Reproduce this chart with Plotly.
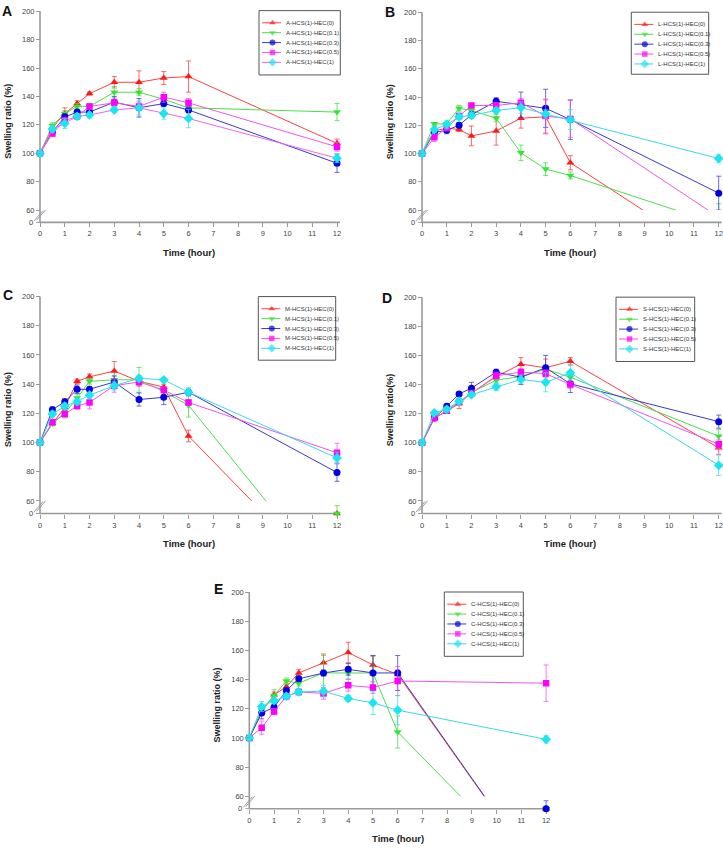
import plotly.graph_objects as go

W, H = 723, 850

# ---------------- data ----------------
TIME = [0, 0.5, 1, 1.5, 2, 3, 4, 5, 6, 12]
X_TICKS = list(range(0, 13))
Y_TICKS = [60, 80, 100, 120, 140, 160, 180, 200]
HEC_LEVELS = ["0", "0.1", "0.3", "0.5", "1"]
PREFIXES = ["A", "L", "M", "S", "C"]
PANEL_LETTERS = ["A", "B", "C", "D", "E"]
Y_TITLES = ["Swelling ratio (%)", "Swelling ratio (%)", "Swelling ratio (%)",
            "Swelling ratio(%)", "Swelling ratio (%)"]
X_TITLE = "Time (hour)"

# Panel A  (A-HCS(1)-HEC(x))
A_HEC0 = [100, 118, 128, 135, 142, 150, 150, 153, 154, 107]
A_HEC01 = [100, 119.5, 128, 133, 133, 143, 143, 138, 132, 129]
A_HEC03 = [100, 115, 125.5, 129, 129, 136, 132, 135, 130.5, 93]
A_HEC05 = [100, 114, 123, 126, 133, 135.5, 133, 139.5, 135.5, 104.5]
A_HEC1 = [100, 117, 121, 126, 127, 130.5, 132, 128, 124.5, 96.5]
A_ERR0 = [0, 1.5, 4, 2, 1, 4, 8, 4.5, 11, 3]
A_ERR01 = [0, 2, 2, 2, 1.5, 4, 2.5, 3, 2, 6]
A_ERR03 = [0, 1.5, 2.5, 2, 2, 4, 6.5, 2, 2, 6.5]
A_ERR05 = [0, 2, 2, 2, 2, 2.5, 3, 3.5, 3, 3]
A_ERR1 = [0, 2, 3.5, 2, 2, 2, 5, 4, 6.5, 3]

# Panel B  (L-HCS(1)-HEC(x))
B_HEC0 = [100, 116, 118, 117, 112.5, 116, 125, 126, 93.5, 25]
B_HEC01 = [100, 121, 121, 132, 130.5, 125, 100.5, 89, 84.5, 50]
B_HEC03 = [100, 115, 116.5, 120, 127.5, 137, 134.5, 132, 124, 72]
B_HEC05 = [100, 111.5, 118, 126.5, 134, 134, 136, 126.5, 124.5, 55]
B_HEC1 = [100, 117, 120.5, 126, 127, 130.5, 132.5, 128, 124, 96.5]
B_ERR0 = [0, 2, 2, 1.5, 7, 10, 7, 12, 5, 0]
B_ERR01 = [0, 1, 1.5, 2, 2, 2.5, 5.5, 4.5, 2.5, 14.5]
B_ERR03 = [0, 3, 2.5, 2, 2, 2.5, 9, 13.5, 14, 12]
B_ERR05 = [0, 3, 2, 2, 1.5, 2, 3, 12, 13, 0]
B_ERR1 = [0, 2, 3, 2, 2, 2, 4, 3, 7, 3]

# Panel C  (M-HCS(1)-HEC(x))
C_HEC0 = [100, 113, 124, 142, 145, 149, 142, 138, 104.5, 0]
C_HEC01 = [100, 113, 120, 130.5, 142, 143, 143, 135, 125.5, 0]
C_HEC03 = [100, 122.5, 128, 136.5, 136.5, 141.5, 129.5, 131, 134.5, 79.5]
C_HEC05 = [100, 114, 119.5, 125, 127.5, 139, 141.5, 136, 127.5, 93]
C_HEC1 = [100, 119.5, 125, 128, 132.5, 139, 144, 143, 134.5, 89.5]
C_ERR0 = [0, 1, 2, 1.5, 2, 6.5, 3, 2, 4, 0]
C_ERR01 = [0, 1.5, 3, 3, 2, 3, 8.5, 3, 8, 38]
C_ERR03 = [0, 2, 2, 3, 2, 4, 4.5, 5, 2, 6]
C_ERR05 = [0, 2, 2, 2, 4.5, 4.5, 3, 2, 2, 6.5]
C_ERR1 = [0, 2, 2, 2, 2, 3, 2, 1.5, 3, 4]

# Panel D  (S-HCS(1)-HEC(x))
D_HEC0 = [100, 117, 121.5, 127, 134, 145.5, 154, 151.5, 156, 96.5]
D_HEC01 = [100, 117, 122, 127.5, 134.5, 143, 145.5, 150.5, 145, 104.5]
D_HEC03 = [100, 117, 125, 133.5, 137.5, 148.5, 145, 151.5, 140.5, 114.5]
D_HEC05 = [100, 117, 122, 128, 134, 146, 148.5, 147.5, 140, 99]
D_HEC1 = [100, 120.5, 123, 128.5, 133, 138.5, 143.5, 141.5, 148, 84.5]
D_ERR0 = [0, 1, 1.5, 3.5, 2, 2, 4.5, 6, 2.5, 4.5]
D_ERR01 = [0, 1, 1.5, 2, 2, 2, 2, 2, 2, 4.5]
D_ERR03 = [0, 1.5, 1.5, 1.5, 4, 2, 5, 8.5, 6, 4.5]
D_ERR05 = [0, 1.5, 1.5, 2, 2, 2.5, 2.5, 2.5, 2.5, 3]
D_ERR1 = [0, 1.5, 2, 2, 1.5, 2.5, 3, 6.5, 5, 7]

# Panel E  (C-HCS(1)-HEC(x))
E_HEC0 = [100, 118, 129.5, 135, 144.5, 151.5, 158.5, 150, 143.5, 0]
E_HEC01 = [100, 119, 129, 139, 137.5, 144.5, 144.5, 144.5, 104, 0]
E_HEC03 = [100, 117, 121, 132.5, 140.5, 144.5, 147, 144.5, 144.5, 0]
E_HEC05 = [100, 107, 118, 128.5, 131.5, 130.5, 136, 134.5, 139, 137.5]
E_HEC1 = [100, 121.5, 125.5, 128.5, 131.5, 132, 127, 124, 119, 99]
E_ERR0 = [0, 2, 2, 2, 2.5, 6, 7, 6, 3, 0]
E_ERR01 = [0, 2, 4, 2, 2, 12, 4, 12, 11, 0]
E_ERR03 = [0, 4, 2, 2, 2, 2, 4, 12, 12, 38]
E_ERR05 = [0, 4.5, 2, 2, 2, 4, 4, 4, 10, 12.5]
E_ERR1 = [0, 3.5, 2, 2, 2, 4, 2, 8, 10, 2.5]

VALUES = [
    [A_HEC0, A_HEC01, A_HEC03, A_HEC05, A_HEC1],
    [B_HEC0, B_HEC01, B_HEC03, B_HEC05, B_HEC1],
    [C_HEC0, C_HEC01, C_HEC03, C_HEC05, C_HEC1],
    [D_HEC0, D_HEC01, D_HEC03, D_HEC05, D_HEC1],
    [E_HEC0, E_HEC01, E_HEC03, E_HEC05, E_HEC1],
]
ERRORS = [
    [A_ERR0, A_ERR01, A_ERR03, A_ERR05, A_ERR1],
    [B_ERR0, B_ERR01, B_ERR03, B_ERR05, B_ERR1],
    [C_ERR0, C_ERR01, C_ERR03, C_ERR05, C_ERR1],
    [D_ERR0, D_ERR01, D_ERR03, D_ERR05, D_ERR1],
    [E_ERR0, E_ERR01, E_ERR03, E_ERR05, E_ERR1],
]

# ---------------- styles / layout ----------------
FONT = "Arial, Liberation Sans, sans-serif"
AXIS_COLOR = "#9a9a9a"
TEXT_COLOR = "#444444"
MARKER_COLORS = ["#ff1a1a", "#33e633", "#0000e6", "#ff00ff", "#1ae6f0"]
LINE_COLORS = ["#ff4040", "#4ddd4d", "#3a3acc", "#ee55ee", "#3ad8ea"]
ERR_COLORS = ["rgba(255,60,60,0.75)", "rgba(70,220,70,0.75)", "rgba(60,60,210,0.75)",
              "rgba(240,80,240,0.75)", "rgba(60,220,235,0.75)"]
SYMBOLS = ["triangle-up", "triangle-down", "circle", "square", "diamond"]
SIZES = [7, 7, 7, 6.5, 7.5]

# pixel geometry per panel: x at t=0, x at t=12, y at 200, y at 60, y at 0, legend box
GEOM = [
    dict(x0=40, x12=337, y200=7.3, y60=208.3, y0=220.7, leg=(259, 6.7, 340.3, 71.7), let=(0, 7)),
    dict(x0=422, x12=718.7, y200=8.3, y60=208.3, y0=220.7, leg=(631.3, 8.3, 708.7, 71), let=(382.5, 8)),
    dict(x0=40, x12=337, y200=295.7, y60=502.3, y0=515, leg=(258.3, 295.7, 335.7, 360), let=(1, 294)),
    dict(x0=422, x12=718.7, y200=296.3, y60=502.3, y0=515, leg=(616, 296.3, 694.7, 361.3), let=(380, 297)),
    dict(x0=249.3, x12=546.1, y200=594.3, y60=800.7, y0=813.3, leg=(444.3, 594.3, 523.3, 659.3), let=(211.5, 591.7)),
]


def px(x):
    return min(max(x / W, 0.0), 1.0)


def py(y):
    return min(max(1 - y / H, 0.0), 1.0)


def ref(kind, k):
    return kind if k == 1 else f"{kind}{k}"


def lay(kind, k):
    return f"{kind}axis" if k == 1 else f"{kind}axis{k}"


fig = go.Figure()
layout = {}
shapes = []
annotations = []

PAD = 6  # px of breathing room around the data range so edge markers are not clipped

for p in range(5):
    g = GEOM[p]
    xi = p + 1
    yu = 2 * p + 1
    yl = 2 * p + 2
    ppu = (g["x12"] - g["x0"]) / 12.0
    lpad = PAD
    rpad = min(PAD, W - g["x12"])

    layout[lay("x", xi)] = dict(
        domain=[px(g["x0"] - lpad), px(g["x12"] + rpad)],
        range=[-lpad / ppu, 12 + rpad / ppu],
        anchor="free", position=py(g["y0"]),
        tickmode="array", tickvals=X_TICKS, ticktext=[str(v) for v in X_TICKS],
        ticks="outside", ticklen=4, tickwidth=1, tickcolor=AXIS_COLOR,
        showline=False, showgrid=False, zeroline=False,
        tickfont=dict(family=FONT, size=7.5, color=TEXT_COLOR),
        fixedrange=True,
    )
    layout[lay("y", yu)] = dict(
        domain=[py(g["y60"]), py(g["y200"])],
        range=[60, 200],
        anchor="free", position=px(g["x0"]),
        tickmode="array", tickvals=Y_TICKS, ticktext=[str(v) for v in Y_TICKS],
        ticks="outside", ticklen=4, tickwidth=1, tickcolor=AXIS_COLOR,
        showline=False, showgrid=False, zeroline=False,
        tickfont=dict(family=FONT, size=7.5, color=TEXT_COLOR),
        fixedrange=True,
    )
    # compressed zero segment below the axis break
    s = 60.0 / (g["y0"] - g["y60"])
    layout[lay("y", yl)] = dict(
        domain=[py(g["y0"] + PAD), py(g["y60"] + 1.5)],
        range=[-PAD * s, (g["y0"] - g["y60"] - 1.5) * s],
        anchor="free", position=px(g["x0"]),
        visible=False, fixedrange=True,
    )

    line_colors = list(LINE_COLORS)
    if p == 0:
        line_colors[4] = "#ee66ee"

    for k in range(5):
        vals = VALUES[p][k]
        errs = ERRORS[p][k]
        fig.add_trace(go.Scatter(
            x=TIME, y=vals, xaxis=ref("x", xi), yaxis=ref("y", yu),
            mode="lines+markers",
            line=dict(color=line_colors[k], width=1),
            marker=dict(symbol=SYMBOLS[k], size=SIZES[k], color=MARKER_COLORS[k], line=dict(width=0)),
            error_y=dict(type="data", array=errs, color=ERR_COLORS[k], thickness=1, width=2.5),
            name=f"{PREFIXES[p]}-HCS(1)-HEC({HEC_LEVELS[k]})",
            showlegend=False, hoverinfo="x+y+name",
        ))
        zx = [t for t, v in zip(TIME, vals) if v == 0]
        ze = [e for e, v in zip(errs, vals) if v == 0]
        if zx:
            fig.add_trace(go.Scatter(
                x=zx, y=[0] * len(zx), xaxis=ref("x", xi), yaxis=ref("y", yl),
                mode="markers",
                marker=dict(symbol=SYMBOLS[k], size=SIZES[k], color=MARKER_COLORS[k], line=dict(width=0)),
                error_y=dict(type="data", symmetric=False, array=ze, arrayminus=[0] * len(ze),
                             color=ERR_COLORS[k], thickness=1, width=2.5),
                showlegend=False, hoverinfo="skip",
            ))

    # axis lines, zero tick, break marks
    lw = 1.6
    shapes.append(dict(type="line", xref="paper", yref="paper", layer="below",
                       x0=px(g["x0"]), x1=px(g["x0"]), y0=py(g["y200"]), y1=py(g["y0"]),
                       line=dict(color=AXIS_COLOR, width=lw)))
    shapes.append(dict(type="line", xref="paper", yref="paper", layer="below",
                       x0=px(g["x0"]), x1=px(g["x12"] + 3), y0=py(g["y0"]), y1=py(g["y0"]),
                       line=dict(color=AXIS_COLOR, width=lw)))
    shapes.append(dict(type="line", xref="paper", yref="paper", layer="below",
                       x0=px(g["x0"] - 4), x1=px(g["x0"]), y0=py(g["y0"]), y1=py(g["y0"]),
                       line=dict(color=AXIS_COLOR, width=1)))
    for off in (0, 2.6):
        shapes.append(dict(type="line", xref="paper", yref="paper", layer="above",
                           x0=px(g["x0"] - 6 + off), x1=px(g["x0"] + 3 + off),
                           y0=py(g["y0"] - 1.5 - off * 0.3), y1=py(g["y60"] + 0.5 - off * 0.3),
                           line=dict(color=AXIS_COLOR, width=1)))
    annotations.append(dict(xref="paper", yref="paper", x=px(g["x0"] - 5), y=py(g["y0"]),
                            xanchor="right", yanchor="middle", text="0", showarrow=False,
                            font=dict(family=FONT, size=7.5, color=TEXT_COLOR)))

    # titles and panel letter
    annotations.append(dict(xref="paper", yref="paper",
                            x=px((g["x0"] + g["x12"]) / 2), y=py(min(g["y0"] + 30, H - 7)),
                            xanchor="center", yanchor="middle", text=f"<b>{X_TITLE}</b>",
                            showarrow=False, font=dict(family=FONT, size=9.5, color="#222")))
    annotations.append(dict(xref="paper", yref="paper",
                            x=px(g["x0"] - 32), y=py((g["y200"] + g["y0"]) / 2 + 5),
                            xanchor="center", yanchor="middle", text=f"<b>{Y_TITLES[p]}</b>",
                            textangle=-90, showarrow=False,
                            font=dict(family=FONT, size=9, color="#222")))
    annotations.append(dict(xref="paper", yref="paper", x=px(g["let"][0]), y=py(g["let"][1]),
                            xanchor="left", yanchor="middle", text=f"<b>{PANEL_LETTERS[p]}</b>",
                            showarrow=False, font=dict(family=FONT, size=14, color="#111")))

    # legend box
    L, T, R, B = g["leg"]
    shapes.append(dict(type="rect", xref="paper", yref="paper", layer="below",
                       x0=px(L), x1=px(R), y0=py(B), y1=py(T),
                       line=dict(color="#555555", width=1), fillcolor="white"))
    for k in range(5):
        yy = T + 12.3 + 10 * k
        fig.add_trace(go.Scatter(
            x=[L + 3, L + 13.5, L + 22], y=[yy, yy, yy], xaxis="x6", yaxis="y11",
            mode="lines+markers",
            line=dict(color=line_colors[k], width=1),
            marker=dict(symbol=SYMBOLS[k], size=[0, SIZES[k] - 1, 0], color=MARKER_COLORS[k],
                        line=dict(width=0)),
            showlegend=False, hoverinfo="skip",
        ))
        annotations.append(dict(xref="paper", yref="paper", x=px(L + 25), y=py(yy),
                                xanchor="left", yanchor="middle",
                                text=f"{PREFIXES[p]}-HCS(1)-HEC({HEC_LEVELS[k]})",
                                showarrow=False, font=dict(family=FONT, size=6, color="#333")))

# overlay pixel-space axis for legend samples
layout["xaxis6"] = dict(domain=[0, 1], range=[0, W], visible=False, anchor="y11", fixedrange=True)
layout["yaxis11"] = dict(domain=[0, 1], range=[H, 0], visible=False, anchor="x6", fixedrange=True)

fig.update_layout(
    width=W, height=H,
    margin=dict(l=0, r=0, t=0, b=0),
    paper_bgcolor="white", plot_bgcolor="rgba(0,0,0,0)",
    showlegend=False,
    shapes=shapes, annotations=annotations,
    **layout,
)

fig.write_html(
    "out.html",
    config={"displayModeBar": False},
    post_script="document.body.style.margin='0';document.body.style.overflow='hidden';",
)
